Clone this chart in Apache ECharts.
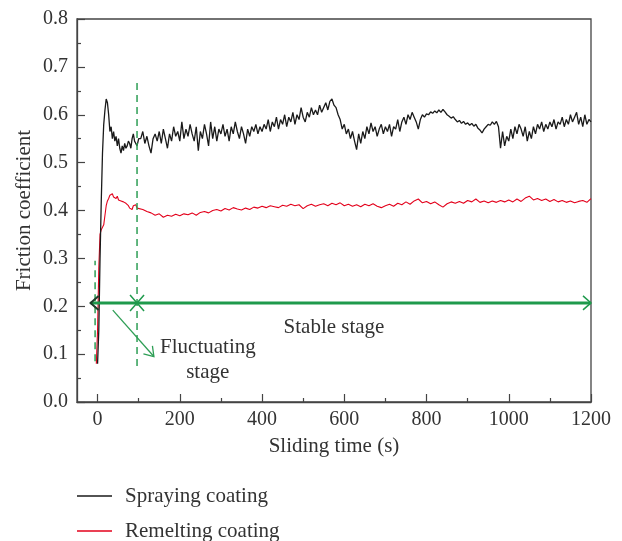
<!DOCTYPE html>
<html>
<head>
<meta charset="utf-8">
<script src="https://cdn.jsdelivr.net/npm/echarts@6.0.0/dist/echarts.min.js"></script>
<style>
html, body { margin: 0; padding: 0; background: #fff; }
#chart { width: 622px; height: 541px; }
</style>
</head>
<body>
<div id="chart"></div>
<script>
// sliding time (s) / friction coefficient
const sprayTime = [
    0, 3, 6, 9, 12, 15, 18, 21, 24, 27, 30, 33, 36, 39, 42, 45, 48, 51, 54, 57,
    60, 63, 66, 69, 72, 75, 78, 81, 84, 87, 90, 93, 96, 100,
    105, 110, 115, 120, 125, 130, 135, 140, 145, 150, 155, 160, 165, 170, 175, 180, 185, 190, 195, 200,
    205, 210, 215, 220, 225, 230, 235, 240, 245, 250, 255, 260, 265, 270, 275, 280, 285, 290, 295, 300,
    305, 310, 315, 320, 325, 330, 335, 340, 345, 350, 355, 360, 365, 370, 375, 380, 385, 390, 395, 400,
    405, 410, 415, 420, 425, 430, 435, 440, 445, 450, 455, 460, 465, 470, 475, 480, 485, 490, 495, 500,
    505, 510, 515, 520, 525, 530, 535, 540, 545, 550, 555, 560, 565, 570, 575, 580, 585, 590, 595, 600,
    605, 610, 615, 620, 625, 630, 635, 640, 645, 650, 655, 660, 665, 670, 675, 680, 685, 690, 695, 700,
    705, 710, 715, 720, 725, 730, 735, 740, 745, 750, 755, 760, 765, 770, 775, 780, 785, 790, 795, 800,
    805, 810, 815, 820, 825, 830, 835, 840, 845, 850, 855, 860, 865, 870, 875, 880, 885, 890, 895, 900,
    905, 910, 915, 920, 925, 930, 935, 940, 945, 950, 955, 960, 965, 970, 975, 980, 985, 990, 995, 1000,
    1005, 1010, 1015, 1020, 1025, 1030, 1035, 1040, 1045, 1050, 1055, 1060, 1065, 1070, 1075, 1080, 1085, 1090, 1095, 1100,
    1105, 1110, 1115, 1120, 1125, 1130, 1135, 1140, 1145, 1150, 1155, 1160, 1165, 1170, 1175, 1180, 1185, 1190, 1195, 1200
];
const sprayValue = [
    0.08, 0.15, 0.30, 0.42, 0.52, 0.58, 0.61, 0.633, 0.625, 0.60, 0.565, 0.575, 0.55, 0.565, 0.545, 0.555, 0.535, 0.55, 0.53, 0.52,
    0.535, 0.525, 0.54, 0.53, 0.535, 0.545, 0.54, 0.53, 0.55, 0.56, 0.545, 0.54, 0.535, 0.55,
    0.55, 0.565, 0.54, 0.555, 0.535, 0.52, 0.55, 0.56, 0.545, 0.565, 0.54, 0.57, 0.55, 0.53, 0.56, 0.545, 0.575, 0.555, 0.565, 0.545,
    0.585, 0.55, 0.57, 0.555, 0.58, 0.56, 0.545, 0.575, 0.525, 0.565, 0.55, 0.58, 0.56, 0.535, 0.585, 0.55, 0.575, 0.545, 0.57, 0.56,
    0.58, 0.555, 0.57, 0.545, 0.575, 0.56, 0.585, 0.565, 0.55, 0.575, 0.56, 0.54, 0.57, 0.555, 0.575, 0.565, 0.58, 0.56, 0.575, 0.565,
    0.58, 0.57, 0.59, 0.565, 0.585, 0.575, 0.595, 0.57, 0.59, 0.58, 0.60, 0.575, 0.595, 0.585, 0.605, 0.58, 0.60, 0.59, 0.615, 0.595,
    0.585, 0.605, 0.595, 0.615, 0.60, 0.61, 0.60, 0.62, 0.605, 0.615, 0.625, 0.61, 0.628, 0.633, 0.62, 0.615, 0.60, 0.59, 0.57, 0.58,
    0.56, 0.57, 0.55, 0.565, 0.545, 0.527, 0.56, 0.54, 0.565, 0.55, 0.575, 0.56, 0.583, 0.565, 0.575, 0.555, 0.57, 0.58, 0.56, 0.575,
    0.565, 0.58, 0.555, 0.575, 0.57, 0.59, 0.565, 0.585, 0.595, 0.58, 0.60, 0.59, 0.605, 0.595, 0.585, 0.57, 0.59, 0.60, 0.595, 0.602,
    0.60, 0.606, 0.603, 0.608, 0.604, 0.61, 0.605, 0.611, 0.606, 0.60, 0.597, 0.593, 0.596, 0.59, 0.585, 0.588, 0.582, 0.586, 0.58, 0.583,
    0.578, 0.582, 0.576, 0.58, 0.572, 0.568, 0.562, 0.57, 0.575, 0.58, 0.578, 0.585, 0.58, 0.586, 0.575, 0.53, 0.565, 0.535, 0.555, 0.545,
    0.57, 0.55, 0.575, 0.56, 0.58, 0.57, 0.555, 0.575, 0.545, 0.565, 0.55, 0.575, 0.56, 0.58, 0.57, 0.585, 0.565, 0.58, 0.57, 0.585,
    0.575, 0.59, 0.57, 0.585, 0.58, 0.595, 0.575, 0.59, 0.58, 0.60, 0.585, 0.595, 0.605, 0.58, 0.595, 0.575, 0.60, 0.58, 0.59, 0.585
];

const remeltTime = [
    -3, 0, 3, 6, 9, 12, 15, 18, 21, 24, 27, 30, 33, 36, 39, 42, 45, 48, 51, 54,
    57, 60, 63, 66, 69, 72, 75, 78, 81, 84, 87, 90, 93, 96, 100,
    110, 120, 130, 140, 150, 160, 170, 180, 190, 200, 210, 220, 230, 240, 250, 260,
    270, 280, 290, 300, 310, 320, 330, 340, 350, 360, 370, 380, 390, 400, 410, 420,
    430, 440, 450, 460, 470, 480, 490, 500, 510, 520, 530, 540, 550, 560, 570, 580,
    590, 600, 610, 620, 630, 640, 650, 660, 670, 680, 690, 700, 710, 720, 730, 740,
    750, 760, 770, 780, 790, 800, 810, 820, 830, 840, 850, 860, 870, 880, 890, 900,
    910, 920, 930, 940, 950, 960, 970, 980, 990, 1000, 1010, 1020, 1030, 1040, 1050, 1060,
    1070, 1080, 1090, 1100, 1110, 1120, 1130, 1140, 1150, 1160, 1170, 1180, 1190, 1200
];
const remeltValue = [
    0.08, 0.15, 0.28, 0.35, 0.36, 0.365, 0.37, 0.39, 0.41, 0.42, 0.425, 0.432, 0.43, 0.435, 0.428, 0.432, 0.425, 0.43, 0.422, 0.426,
    0.42, 0.424, 0.418, 0.42, 0.415, 0.419, 0.41, 0.405, 0.408, 0.402, 0.41, 0.408, 0.412, 0.405, 0.408,
    0.402, 0.398, 0.395, 0.39, 0.393, 0.386, 0.39, 0.388, 0.392, 0.389, 0.393, 0.391, 0.395, 0.39, 0.396, 0.398,
    0.395, 0.40, 0.402, 0.399, 0.404, 0.401, 0.406, 0.403, 0.401, 0.405, 0.402, 0.407, 0.405, 0.409, 0.406, 0.41,
    0.408, 0.406, 0.411, 0.409, 0.413, 0.41, 0.412, 0.404, 0.41, 0.413, 0.409, 0.412, 0.414, 0.41, 0.415, 0.412,
    0.416, 0.41, 0.413, 0.409, 0.412, 0.408, 0.413, 0.41, 0.414, 0.409, 0.406, 0.41, 0.413, 0.409, 0.415, 0.412,
    0.418, 0.413, 0.42, 0.424, 0.416, 0.419, 0.414, 0.418, 0.412, 0.407, 0.414, 0.418, 0.415, 0.419, 0.415, 0.421,
    0.418, 0.424, 0.417, 0.42, 0.416, 0.42, 0.417, 0.421, 0.418, 0.422, 0.418, 0.424, 0.419, 0.426, 0.43, 0.422,
    0.425, 0.421, 0.424, 0.419, 0.423, 0.418, 0.421, 0.417, 0.42, 0.416, 0.419, 0.421, 0.417, 0.425
];

const xMajorTicks = [0, 200, 400, 600, 800, 1000, 1200];
const xMinorTicks = [100, 300, 500, 700, 900, 1100];

const seriesNames = ['Spraying coating', 'Remelting coating'];
const seriesColors = ['#1a1a1a', '#e3001b'];

const FONT = '"Liberation Serif", "DejaVu Serif", serif';
const GREEN = '#1f9a4c';

function zip(xs, ys) {
    return xs.map((x, i) => [x, ys[i]]);
}

const myChart = echarts.init(document.getElementById('chart'));

const legendText = {
    fontFamily: FONT,
    fontSize: 21,
    color: '#333',
    lineHeight: 22,
    padding: [0, 0, 0, 8]
};

const option = {
    animation: false,
    grid: {
        left: 77,
        right: 31,
        top: 19,
        bottom: 139,
        show: true,
        borderColor: '#444',
        borderWidth: 1.3
    },
    legend: [
        {
            left: 77, top: 485, padding: 0,
            icon: 'rect', itemWidth: 35, itemHeight: 1.5,
            data: [seriesNames[0]], textStyle: legendText
        },
        {
            left: 77, top: 520, padding: 0,
            icon: 'rect', itemWidth: 35, itemHeight: 1.5,
            data: [seriesNames[1]], textStyle: legendText
        }
    ],
    xAxis: [
        {
            type: 'value',
            min: -50,
            max: 1200,
            name: 'Sliding time (s)',
            nameLocation: 'middle',
            nameGap: 34,
            nameTextStyle: { fontFamily: FONT, fontSize: 21, color: '#333' },
            axisLine: { onZero: false, lineStyle: { color: '#444', width: 1.3 } },
            axisTick: { inside: true, length: 8, customValues: xMajorTicks, lineStyle: { color: '#444', width: 1.2 } },
            axisLabel: {
                customValues: xMajorTicks, margin: 8,
                fontFamily: FONT, fontSize: 20, color: '#333',
                formatter: v => String(v)
            },
            splitLine: { show: false }
        },
        {
            type: 'value',
            min: -50,
            max: 1200,
            position: 'bottom',
            axisLine: { show: false, onZero: false },
            axisTick: { inside: true, length: 4, customValues: xMinorTicks, lineStyle: { color: '#444', width: 1.2 } },
            axisLabel: { show: false },
            splitLine: { show: false }
        }
    ],
    yAxis: {
        type: 'value',
        min: 0,
        max: 0.8,
        interval: 0.1,
        name: 'Friction coefficient',
        nameLocation: 'middle',
        nameGap: 42,
        nameMoveOverlap: false,
        nameTextStyle: { fontFamily: FONT, fontSize: 21, color: '#333' },
        axisLine: { show: true, onZero: false, lineStyle: { color: '#444', width: 1.3 } },
        axisTick: { show: true, inside: true, length: 8, lineStyle: { color: '#444', width: 1.2 } },
        minorTick: { show: true, splitNumber: 2, length: 4, lineStyle: { color: '#444', width: 1.2 } },
        axisLabel: {
            margin: 9,
            fontFamily: FONT,
            fontSize: 20,
            color: '#333',
            formatter: v => v.toFixed(1)
        },
        splitLine: { show: false }
    },
    series: [
        {
            name: seriesNames[1],
            type: 'line',
            data: zip(remeltTime, remeltValue),
            showSymbol: false,
            color: seriesColors[1],
            lineStyle: { color: seriesColors[1], width: 1.1 },
            z: 2
        },
        {
            name: seriesNames[0],
            type: 'line',
            data: zip(sprayTime, sprayValue),
            showSymbol: false,
            color: seriesColors[0],
            lineStyle: { color: seriesColors[0], width: 1.3 },
            z: 3
        }
    ]
};

myChart.setOption(option);

// stage annotations (data coordinates)
function toPx(p) {
    return myChart.convertToPixel({ gridIndex: 0 }, p);
}

function lineEl(a, b, color, width, dash) {
    return {
        type: 'line',
        shape: { x1: a[0], y1: a[1], x2: b[0], y2: b[1] },
        style: { stroke: color, lineWidth: width, lineDash: dash || null },
        z: 10
    };
}

// open arrow head pointing along (dx, dy)
function chevron(tip, dx, dy, len, half, color, width) {
    const n = Math.sqrt(dx * dx + dy * dy);
    const ux = dx / n, uy = dy / n;
    const bx = tip[0] - ux * len, by = tip[1] - uy * len;
    return {
        type: 'polyline',
        shape: { points: [[bx - uy * half, by + ux * half], tip, [bx + uy * half, by - ux * half]] },
        style: { stroke: color, lineWidth: width, fill: null },
        z: 11
    };
}

function textEl(p, text, align) {
    return {
        type: 'text',
        x: p[0],
        y: p[1],
        style: {
            text: text,
            fontFamily: FONT,
            fontSize: 21,
            fill: '#333',
            align: align,
            verticalAlign: 'middle'
        },
        z: 12
    };
}

const arrowY = 0.207;
const leftEnd = toPx([-17, arrowY]);
const splitPt = toPx([96, arrowY]);
const rightEnd = toPx([1200, arrowY]);
const diagA = toPx([37, 0.192]);
const diagB = toPx([137, 0.095]);

const graphics = [
    lineEl(toPx([-6, 0.085]), toPx([-6, 0.295]), '#2e9e55', 1.5, [7, 5]),
    lineEl(toPx([96, 0.075]), toPx([96, 0.675]), '#2e9e55', 1.5, [7, 5]),
    lineEl(leftEnd, splitPt, GREEN, 3),
    lineEl(splitPt, rightEnd, GREEN, 3),
    chevron(leftEnd, -1, 0, 8, 7, '#1c3d2a', 2),
    chevron(splitPt, 1, 0, 7, 8, GREEN, 1.5),
    chevron(splitPt, -1, 0, 7, 8, GREEN, 1.5),
    chevron(rightEnd, 1, 0, 8, 7, GREEN, 1.5),
    lineEl(diagA, diagB, '#2e9e55', 1.3),
    chevron(diagB, diagB[0] - diagA[0], diagB[1] - diagA[1], 9, 6, '#2e9e55', 1.3),
    textEl(toPx([152, 0.114]), 'Fluctuating', 'left'),
    textEl(toPx([268, 0.062]), 'stage', 'center'),
    textEl(toPx([575, 0.156]), 'Stable stage', 'center')
];

myChart.setOption({ graphic: graphics });
</script>
</body>
</html>
